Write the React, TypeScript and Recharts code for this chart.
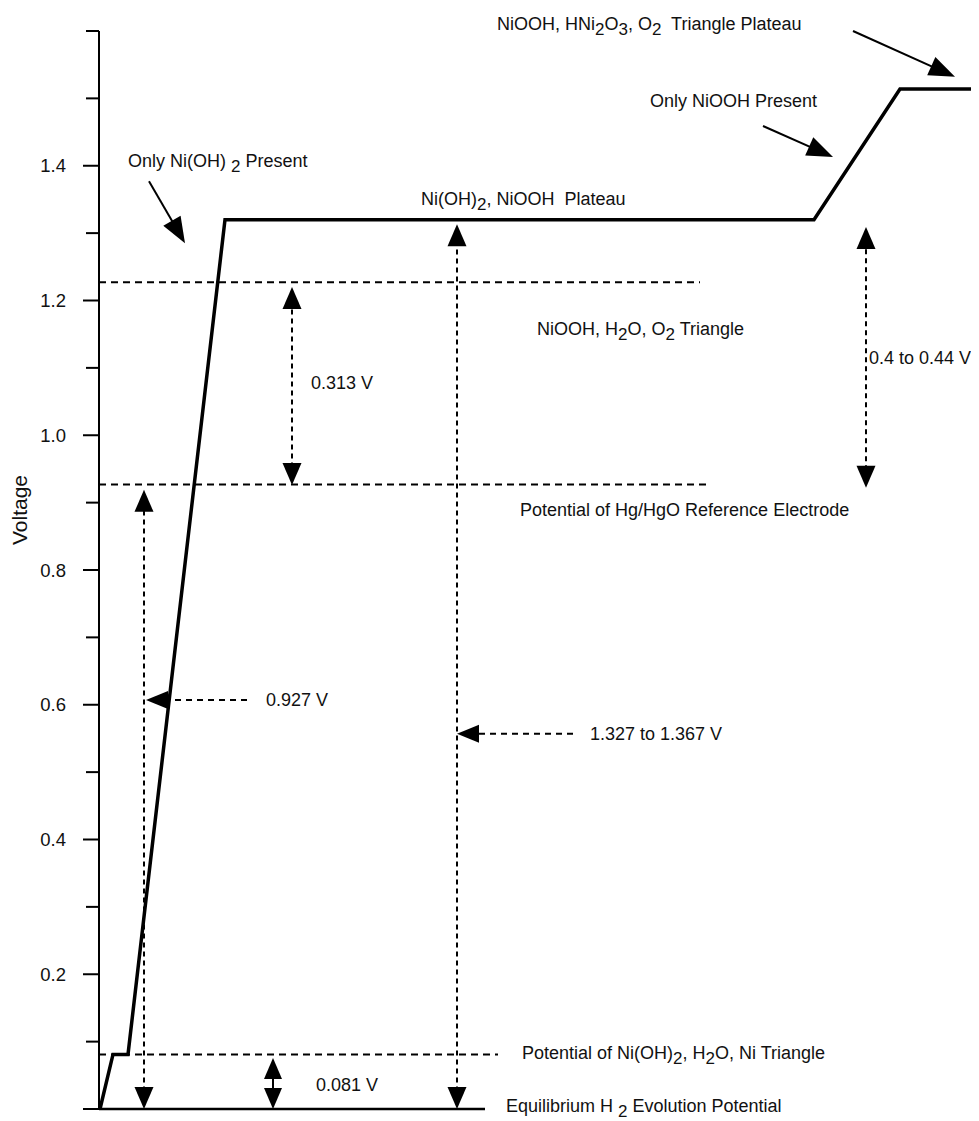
import React from 'react';
import { LineChart, Line, XAxis, YAxis, ReferenceLine, ReferenceDot } from 'recharts';

const FONT = 'Arial, "Liberation Sans", Helvetica, sans-serif';

// ---- main curve (charge, arbitrary units) vs voltage ----
const chargeUnits = [1, 14, 29, 126, 715, 801, 880];
const curveVoltage = [0, 0.081, 0.081, 1.32, 1.32, 1.514, 1.514];

// ---- y axis ----
const yTicks = [0, 0.1, 0.2, 0.3, 0.4, 0.5, 0.6, 0.7, 0.8, 0.9, 1.0, 1.1, 1.2, 1.3, 1.4, 1.5, 1.6];
const yTickLabels = ['0.2', '0.4', '0.6', '0.8', '1.0', '1.2', '1.4'];

// ---- dashed potential levels ----
const levelVoltage = [1.227, 0.927, 0.081];
const levelEnd = [601, 609, 399];
// solid equilibrium H2 line
const baseVoltage = [0];
const baseEnd = [386];

// ---- dimension arrows (double headed, vertical, dashed) ----
const dimX = [45, 193, 358, 767];
const dimLow = [0, 0.926, 0, 0.922];
const dimHigh = [0.919, 1.22, 1.313, 1.309];
// small 0.081 V arrow
const smallDimX = [174];
const smallDimLow = [0];
const smallDimHigh = [0.0757];

// ---- pointer arrows (dashed, horizontal) ----
const pointerVoltage = [0.607, 0.557];
const pointerFrom = [148, 474];
const pointerTo = [47, 358];

// ---- callout arrows (solid) ----
const calloutFromX = [50, 664, 754];
const calloutFromV = [1.377, 1.459, 1.6];
const calloutToX = [86, 734, 856];
const calloutToV = [1.285, 1.413, 1.532];

// ---- text annotations ( _n marks a subscript digit ) ----
const labelTexts = [
  'NiOOH, HNi_2O_3, O_2  Triangle Plateau',
  'Only NiOOH Present',
  'Ni(OH)_2, NiOOH  Plateau',
  'Only Ni(OH) _2 Present',
  'NiOOH, H_2O, O_2 Triangle',
  '0.313 V',
  '0.4 to 0.44 V',
  'Potential of Hg/HgO Reference Electrode',
  '0.927 V',
  '1.327 to 1.367 V',
  'Potential of Ni(OH)_2, H_2O, Ni Triangle',
  '0.081 V',
  'Equilibrium H _2 Evolution Potential',
];
const labelX = [398, 551, 322, 29, 438, 212, 770, 421, 167, 491, 423, 217, 407];
const labelV = [1.6015, 1.4872, 1.3417, 1.3981, 1.1488, 1.0686, 1.1058, 0.8802, 0.5981, 0.5477, 0.0742, 0.0267, -0.0045];

const chartData = chargeUnits.map((c, i) => ({ charge: c, voltage: curveVoltage[i] }));

const RichText = ({ x, y, text }: { x: number; y: number; text: string }) => {
  const parts = text.split(/_(\d)/);
  return (
    <text x={x} y={y} fontSize={18} fontFamily={FONT} fill="#111" style={{ whiteSpace: 'pre' }}>
      {parts.map((s, i) =>
        i % 2 === 1 ? (
          <tspan key={i} dy={5} fontSize={17}>{s}</tspan>
        ) : (
          <tspan key={i} dy={i > 0 ? -5 : 0}>{s}</tspan>
        )
      )}
    </text>
  );
};

const makeArrow = (heads: 'end' | 'both', dash: string | undefined, L: number, W: number, sw: number) => (p: any) => {
  const x1 = Number(p.x1), y1 = Number(p.y1), x2 = Number(p.x2), y2 = Number(p.y2);
  if (!isFinite(x1) || !isFinite(y1) || !isFinite(x2) || !isFinite(y2)) return <g />;
  const dx = x2 - x1, dy = y2 - y1;
  const len = Math.hypot(dx, dy) || 1;
  const ux = dx / len, uy = dy / len;
  const nx = -uy, ny = ux;
  const head = (tx: number, ty: number, sx: number, sy: number) => {
    const bx = tx - sx * L, by = ty - sy * L;
    return `${tx},${ty} ${bx + nx * W},${by + ny * W} ${bx - nx * W},${by - ny * W}`;
  };
  const sx = heads === 'both' ? x1 + ux * L * 0.8 : x1;
  const sy = heads === 'both' ? y1 + uy * L * 0.8 : y1;
  return (
    <g>
      <line x1={sx} y1={sy} x2={x2 - ux * L * 0.8} y2={y2 - uy * L * 0.8} stroke="#000" strokeWidth={sw} strokeDasharray={dash} />
      <polygon points={head(x2, y2, ux, uy)} fill="#000" />
      {heads === 'both' && <polygon points={head(x1, y1, -ux, -uy)} fill="#000" />}
    </g>
  );
};

const dimArrow = makeArrow('both', '5 4', 22, 9.5, 2);
const smallArrow = makeArrow('both', undefined, 21, 9, 2);
const pointerArrow = makeArrow('end', '6 5', 22, 9, 2);
const calloutArrow = makeArrow('end', undefined, 26, 10, 2);

const YTick = (props: any) => {
  const { x, y, payload } = props;
  const v = Number(payload.value);
  const lbl = v.toFixed(1);
  const labelled = yTickLabels.includes(lbl);
  const len = labelled || v === 0 ? 16 : 13;
  return (
    <g>
      <line x1={x - len} x2={x} y1={y} y2={y} stroke="#000" strokeWidth={2} />
      {labelled && (
        <text x={x - 33} y={y} dy="0.36em" textAnchor="end" fontSize={18.5} fontFamily={FONT} fill="#111">
          {lbl}
        </text>
      )}
    </g>
  );
};

const VoltageLabel = (props: any) => {
  const vb = props.viewBox || { x: 0, y: 23, width: 91, height: 1078 };
  const cx = vb.x + 19;
  const cy = vb.y + 479;
  return (
    <text x={cx} y={cy} transform={`rotate(-90, ${cx}, ${cy})`} textAnchor="middle" fontSize={21} fontFamily={FONT} fill="#111">
      Voltage
    </text>
  );
};

export default function App() {
  return (
    <LineChart width={971} height={1113} data={chartData} margin={{ top: 23, right: 0, bottom: 12, left: 0 }}>
      <XAxis dataKey="charge" type="number" domain={[0, 880]} hide />
      <YAxis
        type="number"
        domain={[0, 1.6]}
        ticks={yTicks}
        interval={0}
        width={91}
        tickSize={0}
        tickMargin={0}
        tickLine={false}
        axisLine={{ stroke: '#000', strokeWidth: 2 }}
        tick={<YTick />}
        label={{ value: 'Voltage', content: <VoltageLabel /> }}
      />
      {levelVoltage.map((v, i) => (
        <ReferenceLine
          key={`lvl${i}`}
          segment={[{ x: 0, y: v }, { x: levelEnd[i], y: v }]}
          stroke="#000"
          strokeWidth={2}
          strokeDasharray="7 5"
          ifOverflow="visible"
        />
      ))}
      {baseVoltage.map((v, i) => (
        <ReferenceLine
          key={`base${i}`}
          segment={[{ x: 0, y: v }, { x: baseEnd[i], y: v }]}
          stroke="#000"
          strokeWidth={2.5}
          ifOverflow="visible"
        />
      ))}
      {dimX.map((x, i) => (
        <ReferenceLine
          key={`dim${i}`}
          segment={[{ x, y: dimLow[i] }, { x, y: dimHigh[i] }]}
          ifOverflow="visible"
          shape={dimArrow}
        />
      ))}
      {smallDimX.map((x, i) => (
        <ReferenceLine
          key={`sdim${i}`}
          segment={[{ x, y: smallDimLow[i] }, { x, y: smallDimHigh[i] }]}
          ifOverflow="visible"
          shape={smallArrow}
        />
      ))}
      {pointerVoltage.map((v, i) => (
        <ReferenceLine
          key={`ptr${i}`}
          segment={[{ x: pointerFrom[i], y: v }, { x: pointerTo[i], y: v }]}
          ifOverflow="visible"
          shape={pointerArrow}
        />
      ))}
      {calloutFromX.map((x, i) => (
        <ReferenceLine
          key={`call${i}`}
          segment={[{ x, y: calloutFromV[i] }, { x: calloutToX[i], y: calloutToV[i] }]}
          ifOverflow="visible"
          shape={calloutArrow}
        />
      ))}
      {labelTexts.map((t, i) => (
        <ReferenceDot
          key={`txt${i}`}
          x={labelX[i]}
          y={labelV[i]}
          r={0}
          ifOverflow="visible"
          shape={(p: any) => <RichText x={p.cx} y={p.cy} text={t} />}
        />
      ))}
      <Line
        type="linear"
        dataKey="voltage"
        stroke="#000"
        strokeWidth={3.5}
        dot={false}
        activeDot={false}
        isAnimationActive={false}
      />
    </LineChart>
  );
}
